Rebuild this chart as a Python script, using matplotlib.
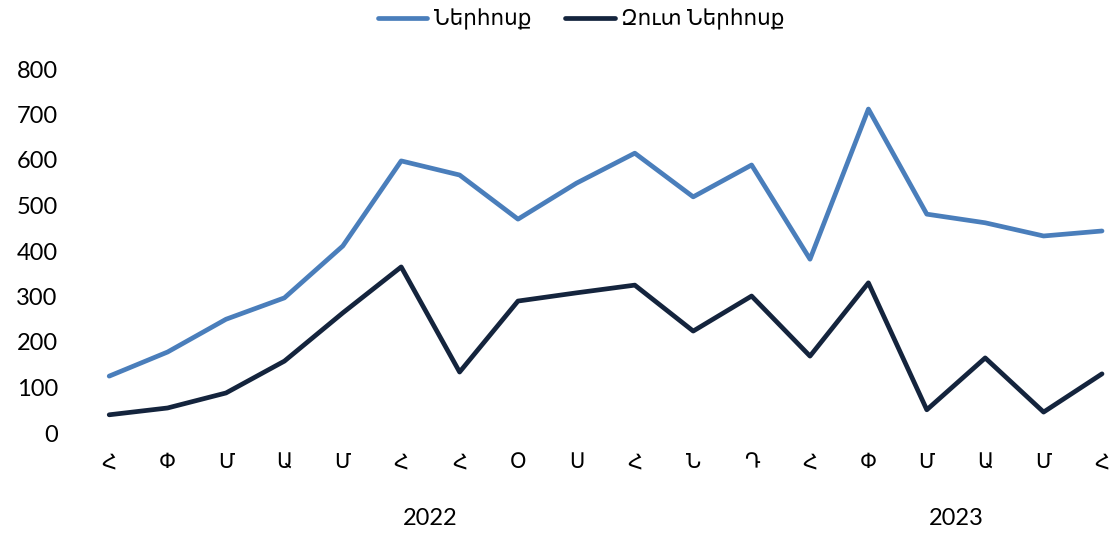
import numpy as np
import matplotlib
matplotlib.use('Agg')
import matplotlib.pyplot as plt

plt.rcParams['font.family'] = ['Lato', 'DejaVu Sans']

months = ['Հ', 'Փ', 'Մ', 'Ա', 'Մ', 'Հ', 'Հ', 'Օ', 'Ս', 'Հ', 'Ն', 'Դ',
          'Հ', 'Փ', 'Մ', 'Ա', 'Մ', 'Հ']
years = ['2022', '2023']
year_counts = [12, 6]

inflow = [125, 178, 250, 297, 411, 598, 567, 470, 549, 615, 519, 589,
          382, 712, 481, 462, 433, 444]
net_inflow = [40, 55, 88, 158, 264, 365, 134, 290, 308, 325, 224, 301,
              169, 330, 51, 165, 46, 130]

labels = ['Ներհոսք', 'Զուտ Ներհոսք']
colors = ['#4a7ebb', '#14243d']

fig = plt.figure(figsize=(11.09, 5.33), dpi=100)
ax = fig.add_axes([80/1109, 100/533, 1029/1109, 364/533])

x = np.arange(len(months))
ax.plot(x, inflow, color=colors[0], lw=3.4, label=labels[0], solid_capstyle='round')
ax.plot(x, net_inflow, color=colors[1], lw=3.4, label=labels[1], solid_capstyle='round')

ax.set_xlim(-0.5, -0.5 + 1029/58.4)
ax.set_ylim(0, 800)
ax.set_yticks(range(0, 801, 100))
ax.set_xticks(x)
ax.set_xticklabels(months, fontsize=15)
ax.tick_params(axis='y', labelsize=17, length=0, pad=16)
ax.tick_params(axis='x', length=0, pad=14)
for s in ax.spines.values():
    s.set_visible(False)

start = 0
for yr, n in zip(years, year_counts):
    ax.text(start + (n - 1) / 2, -0.235, yr, transform=ax.get_xaxis_transform(),
            ha='center', va='center', fontsize=17)
    start += n

fig.legend(loc='upper center', bbox_to_anchor=(0.524, 1.02), ncol=2, frameon=False,
           fontsize=15.5, handlelength=2.3, columnspacing=1.6, handletextpad=0.3)

fig.savefig('out.png', dpi=100)
